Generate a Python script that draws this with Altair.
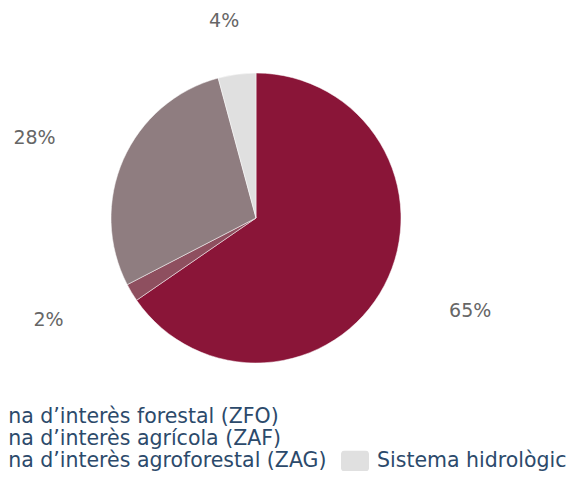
import altair as alt
import pandas as pd

categories = [
    "Zona d’interès forestal (ZFO)",
    "Zona d’interès agrícola (ZAF)",
    "Zona d’interès agroforestal (ZAG)",
    "Sistema hidrològic",
]
values = [65.4, 2.0, 28.4, 4.2]
colors = ["#8a1538", "#8e4f5f", "#8f7d80", "#e0e0e0"]

df = pd.DataFrame({"cat": categories, "value": values, "idx": list(range(len(categories)))})
base = alt.Chart(df)

pie = base.mark_arc(outerRadius=145, stroke="#ffffff", strokeWidth=0.5).encode(
    theta=alt.Theta("value:Q", stack=True),
    color=alt.Color("cat:N", scale=alt.Scale(domain=categories, range=colors), legend=None),
    order=alt.Order("idx:Q"),
)

RX, RY = 242, 199
labels = (
    base.transform_joinaggregate(total="sum(value)")
    .transform_window(cum="sum(value)", sort=[alt.SortField("idx")], frame=[None, 0])
    .transform_calculate(mid="2*PI*(datum.cum - datum.value/2)/datum.total")
    .transform_calculate(
        lt=f"atan2({RX}*sin(datum.mid), {RY}*cos(datum.mid))",
        lr=f"sqrt(pow({RX}*sin(datum.mid),2) + pow({RY}*cos(datum.mid),2))",
        lab="format(datum.value, '.0f') + '%'",
    )
    .mark_text(font="DejaVu Sans", fontSize=19, color="#666666")
    .encode(
        theta=alt.Theta("lt:Q", scale=None),
        radius=alt.Radius("lr:Q", scale=None),
        text="lab:N",
    )
)

sym = ("M-0.75,-0.75H0.75A0.25,0.25,0,0,1,1,-0.5V0.5A0.25,0.25,0,0,1,0.75,0.75"
       "H-0.75A0.25,0.25,0,0,1,-1,0.5V-0.5A0.25,0.25,0,0,1,-0.75,-0.75Z")


def legend(x, y):
    return alt.Legend(
        title=None, orient="none", legendX=x, legendY=y, direction="vertical",
        symbolType=sym, symbolSize=784, symbolOpacity=1, symbolStrokeWidth=0,
        labelFont="DejaVu Sans", labelFontSize=20.5, labelColor="#2c4a6b",
        labelOffset=8, labelLimit=600, clipHeight=21, rowPadding=1, padding=0,
    )


legA = base.mark_square(opacity=0).encode(
    color=alt.Color("cat:N", scale=alt.Scale(domain=categories[:3], range=colors[:3]),
                    legend=legend(-62.4, 398.5))
)
legB = base.mark_square(opacity=0).encode(
    color=alt.Color("cat:N", scale=alt.Scale(domain=categories[3:], range=colors[3:]),
                    legend=legend(333, 442.5))
)

chart = (
    alt.layer(pie, labels, legA, legB)
    .resolve_scale(color="independent")
    .properties(
        width=496, height=420,
        autosize=alt.AutoSizeParams(type="none"),
        padding={"left": 0, "top": 0, "right": 64, "bottom": 43},
    )
    .configure_view(stroke=None)
)

chart.save("out.html", embed_options={"renderer": "svg", "actions": False})
